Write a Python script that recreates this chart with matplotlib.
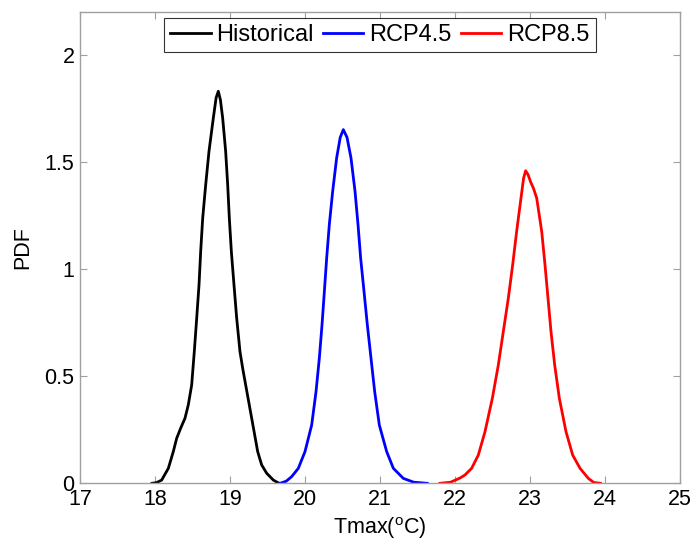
import matplotlib
matplotlib.use("Agg")
import matplotlib.pyplot as plt

plt.rcParams['font.family'] = ['Liberation Sans', 'DejaVu Sans']
plt.rcParams['mathtext.fontset'] = 'custom'
plt.rcParams['mathtext.rm'] = 'Liberation Sans'
plt.rcParams['mathtext.it'] = 'Liberation Sans'

hist_x = [17.96, 18.02, 18.089, 18.178, 18.244, 18.289, 18.342, 18.40, 18.444, 18.489,
          18.524, 18.556, 18.587, 18.609, 18.636, 18.676, 18.72, 18.778, 18.815, 18.844,
          18.872, 18.902, 18.942, 18.969, 18.991, 19.018, 19.053, 19.089, 19.133, 19.169,
          19.209, 19.289, 19.369, 19.422, 19.489, 19.578, 19.644, 19.67]
hist_y = [0, 0.003, 0.015, 0.070, 0.148, 0.210, 0.257, 0.304, 0.366, 0.459,
          0.615, 0.771, 0.927, 1.082, 1.238, 1.394, 1.550, 1.706, 1.800, 1.830,
          1.790, 1.706, 1.550, 1.394, 1.238, 1.082, 0.927, 0.771, 0.615, 0.537,
          0.459, 0.304, 0.148, 0.086, 0.047, 0.015, 0.002, 0]

rcp45_x = [19.67, 19.75, 19.822, 19.911, 20.0, 20.089, 20.147, 20.191, 20.227, 20.258,
           20.289, 20.324, 20.369, 20.422, 20.47, 20.511, 20.56, 20.613, 20.667, 20.707,
           20.742, 20.787, 20.831, 20.88, 20.929, 20.991, 21.089, 21.178, 21.311, 21.45, 21.63]
rcp45_y = [0, 0.01, 0.031, 0.070, 0.148, 0.272, 0.428, 0.584, 0.740, 0.895,
           1.051, 1.207, 1.363, 1.519, 1.615, 1.651, 1.615, 1.519, 1.363, 1.207,
           1.051, 0.895, 0.740, 0.584, 0.428, 0.272, 0.148, 0.070, 0.023, 0.005, 0]

rcp85_x = [21.80, 21.94, 22.07, 22.133, 22.222, 22.311, 22.40, 22.498, 22.578, 22.644,
           22.711, 22.769, 22.822, 22.88, 22.915, 22.942, 22.975, 23.01, 23.044, 23.089,
           23.156, 23.2, 23.24, 23.28, 23.329, 23.391, 23.48, 23.569, 23.667, 23.778,
           23.85, 23.94]
rcp85_y = [0, 0.005, 0.025, 0.039, 0.070, 0.132, 0.241, 0.397, 0.553, 0.708,
           0.864, 1.020, 1.176, 1.332, 1.425, 1.459, 1.440, 1.405, 1.379, 1.332,
           1.176, 1.020, 0.864, 0.708, 0.553, 0.397, 0.241, 0.132, 0.070, 0.023,
           0.004, 0]

labels = ['Historical', 'RCP4.5', 'RCP8.5']
colors = ['#000000', '#0000ff', '#ff0000']
x_ticks = [17, 18, 19, 20, 21, 22, 23, 24, 25]
y_ticks = [0, 0.5, 1, 1.5, 2]
y_tick_labels = ['0', '0.5', '1', '1.5', '2']

fig = plt.figure(figsize=(6.97, 5.48), dpi=100)
ax = fig.add_axes([80 / 697, 1 - 483.3 / 548, 600 / 697, 471.3 / 548])

for xs, ys, lab, c in zip([hist_x, rcp45_x, rcp85_x], [hist_y, rcp45_y, rcp85_y], labels, colors):
    ax.plot(xs, ys, color=c, lw=2.0, label=lab, solid_joinstyle='round')

ax.set_xlim(17, 25)
ax.set_ylim(0, 2.2)
ax.set_xticks(x_ticks)
ax.set_yticks(y_ticks)
ax.set_yticklabels(y_tick_labels)
ax.tick_params(direction='in', length=5, width=0.8, color='#a0a0a0',
               top=True, right=True, labelsize=15.5, pad=4, labelcolor='black')
for s in ax.spines.values():
    s.set_color('#a0a0a0')
    s.set_linewidth(1.0)

ax.set_xlabel(r'Tmax($^{\rm o}$C)', fontsize=15.5, labelpad=4)
ax.set_ylabel('PDF', fontsize=15.5, labelpad=8)

leg = ax.legend(loc='upper center', bbox_to_anchor=(0.5, 1.0), ncol=3, fontsize=17,
                frameon=True, fancybox=False, edgecolor='black', handlelength=1.7,
                handletextpad=0.25, columnspacing=0.4, borderpad=0.25,
                borderaxespad=0.25)
leg.get_frame().set_linewidth(0.8)

fig.savefig('out.png', dpi=100)
